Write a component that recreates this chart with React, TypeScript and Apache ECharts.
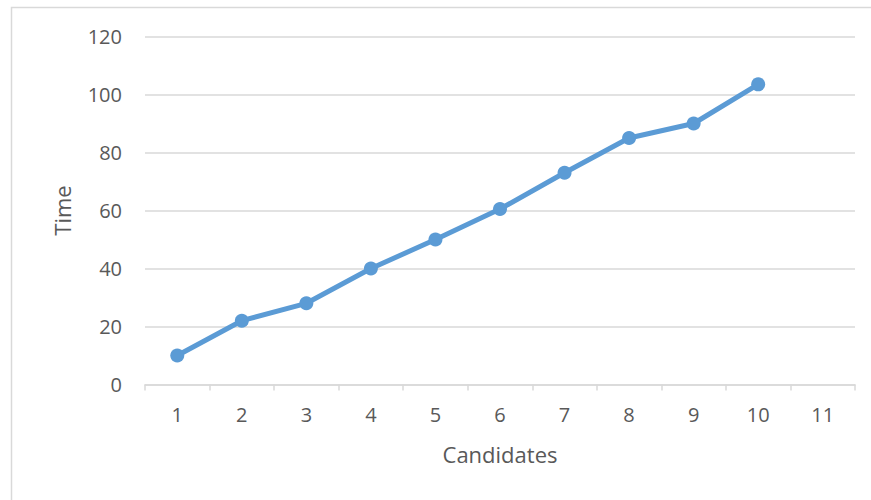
import React, { useEffect, useRef } from "react";
import * as echarts from "echarts";

const categories = ["1", "2", "3", "4", "5", "6", "7", "8", "9", "10", "11"];
const timeValues: (number | null)[] = [10, 22, 28, 40, 50, 60.5, 73, 85, 90, 103.5, null];
const yTicks = { min: 0, max: 120, interval: 20 };

export default function App() {
  const ref = useRef<HTMLDivElement>(null);
  useEffect(() => {
    if (!ref.current) return;
    const chart = echarts.init(ref.current, undefined, { renderer: "svg" });
    const font = "'Open Sans', 'Noto Sans', sans-serif";
    chart.setOption({
      animation: false,
      backgroundColor: "#ffffff",
      grid: { left: 145, right: 16, top: 36.5, bottom: 115.5 },
      graphic: [
        {
          type: "rect",
          shape: { x: 11.5, y: 7.5, width: 1000, height: 1000 },
          style: { fill: "none", stroke: "#d9d9d9", lineWidth: 1.5 },
          silent: true,
        },
      ],
      xAxis: {
        type: "category",
        data: categories,
        boundaryGap: true,
        name: "Candidates",
        nameLocation: "middle",
        nameGap: 58,
        nameTextStyle: { color: "#595959", fontSize: 22, fontFamily: font },
        axisLine: { lineStyle: { color: "#d9d9d9", width: 1.5 } },
        axisTick: { show: true, length: 6, lineStyle: { color: "#d9d9d9", width: 1.5 } },
        axisLabel: { color: "#595959", fontSize: 20, fontFamily: font, margin: 20 },
        splitLine: { show: false },
      },
      yAxis: {
        type: "value",
        min: yTicks.min,
        max: yTicks.max,
        interval: yTicks.interval,
        name: "Time",
        nameLocation: "middle",
        nameGap: 72,
        nameTextStyle: { color: "#595959", fontSize: 22, fontFamily: font },
        axisLine: { show: false },
        axisTick: { show: false },
        axisLabel: { color: "#595959", fontSize: 20, fontFamily: font, margin: 23 },
        splitLine: { lineStyle: { color: "#d9d9d9", width: 1.5 } },
      },
      series: [
        {
          type: "line",
          data: timeValues,
          symbol: "circle",
          symbolSize: 14,
          lineStyle: { color: "#5b9bd5", width: 5 },
          itemStyle: { color: "#5b9bd5" },
          z: 3,
        },
      ],
    });
    return () => chart.dispose();
  }, []);
  return (
    <div
      ref={ref}
      style={{ position: "fixed", left: 0, top: 0, width: 871, height: 500, background: "#fff" }}
    />
  );
}
